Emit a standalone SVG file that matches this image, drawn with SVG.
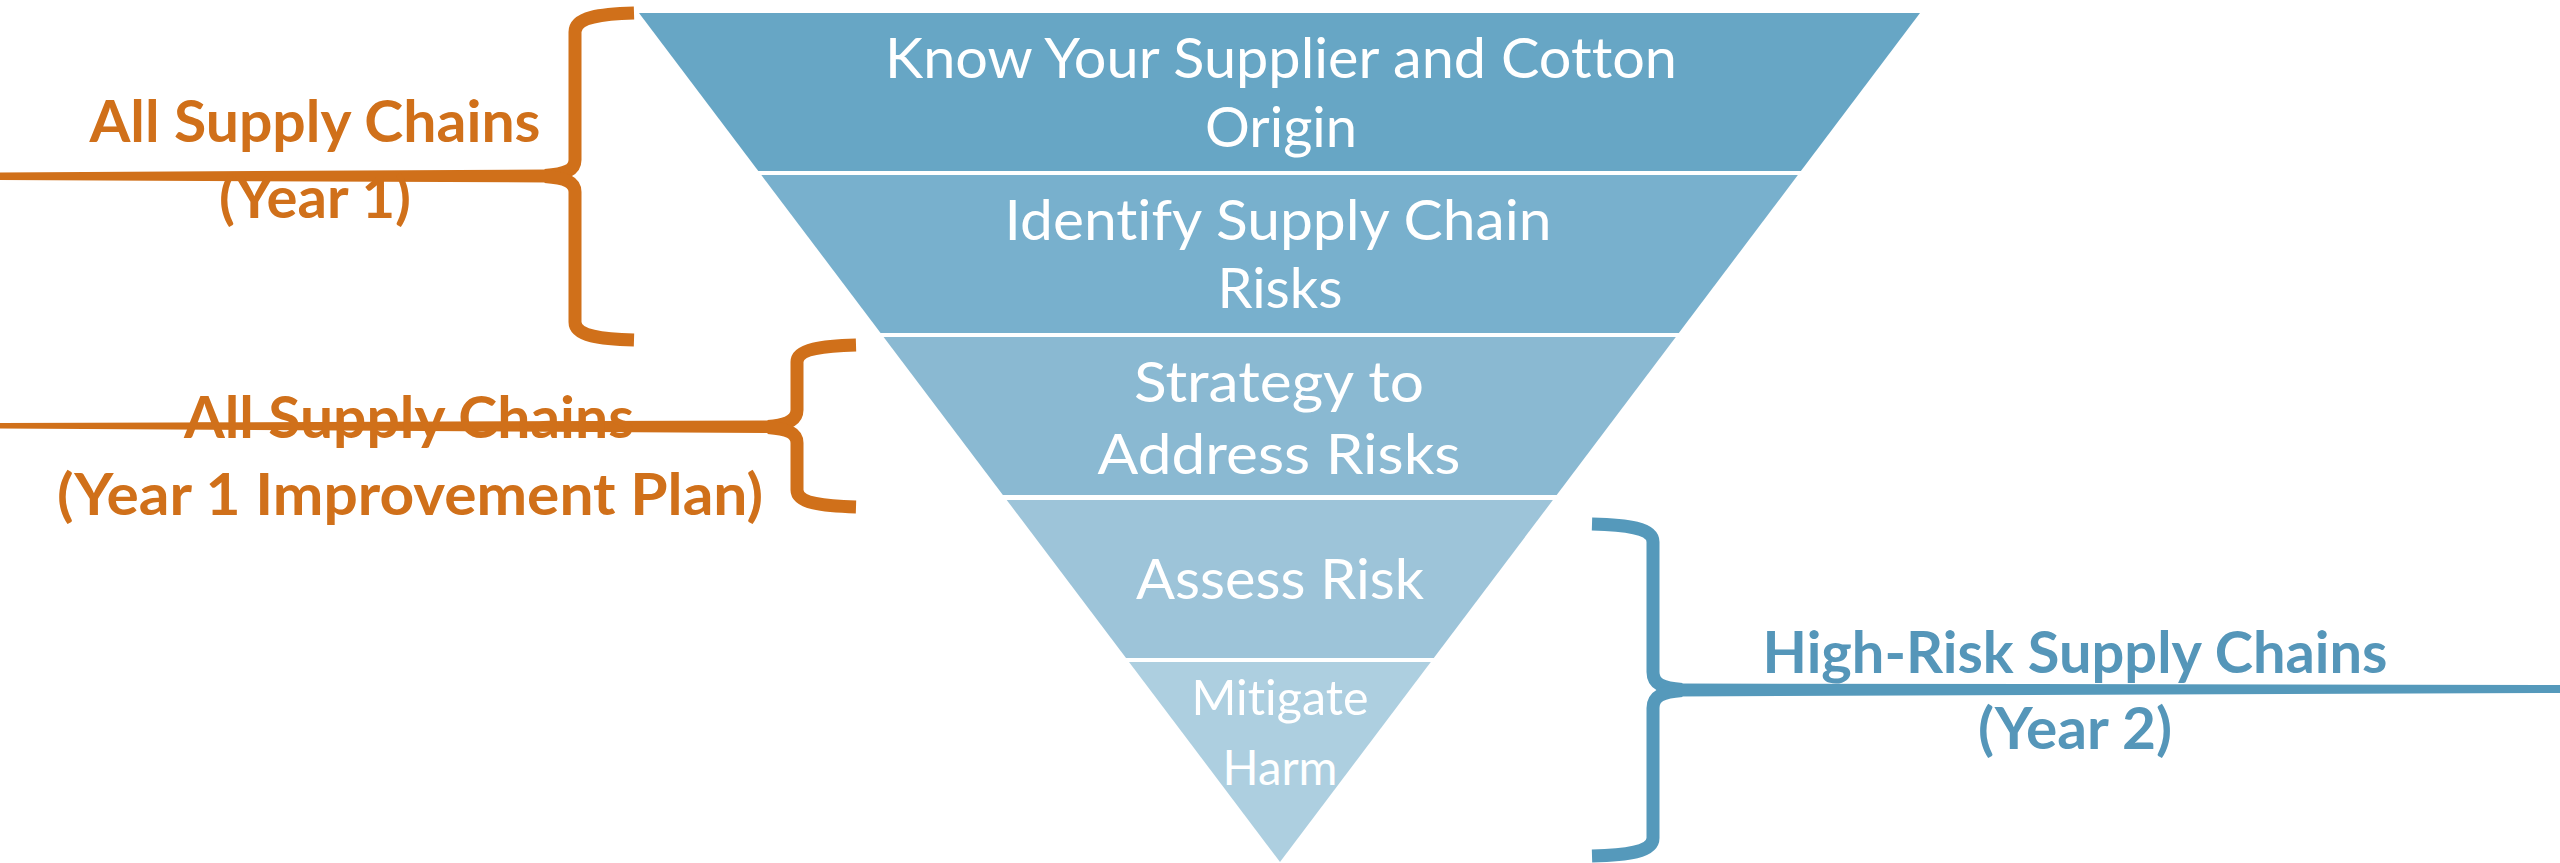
<svg xmlns="http://www.w3.org/2000/svg" width="2560" height="863" viewBox="0 0 2560 863">
<style>
text{font-variant-ligatures:none;font-feature-settings:"liga" 0,"dlig" 0}
.band text{fill:#ffffff;font-family:Lato,"Open Sans","Liberation Sans",sans-serif;font-size:57px;text-anchor:middle}
.lbl{font-family:Lato,"Open Sans","Liberation Sans",sans-serif;font-weight:bold;font-size:58px;text-anchor:middle}
.or{fill:#D0701A}
.bl{fill:#5596B9}
.brO{fill:none;stroke:#D0701A;stroke-width:13;stroke-linecap:butt;stroke-linejoin:round}
.brB{fill:none;stroke:#5599BB;stroke-width:13;stroke-linecap:butt;stroke-linejoin:round}
</style>
<rect width="2560" height="863" fill="#ffffff"/>
<g id="band1" class="band">
<polygon points="639,13 1920,13 1800.9,171 758.3,171" fill="#67A6C5"/>
<text x="1281" y="78" textLength="792" lengthAdjust="spacingAndGlyphs">Know Your Supplier and Cotton</text>
<text x="1281" y="147" textLength="152" lengthAdjust="spacingAndGlyphs">Origin</text>
</g>
<g id="band2" class="band">
<polygon points="761.3,175 1797.9,175 1678.8,333 880.6,333" fill="#78B0CD"/>
<text x="1278" y="240" textLength="547" lengthAdjust="spacingAndGlyphs">Identify Supply Chain</text>
<text x="1280" y="308" textLength="125" lengthAdjust="spacingAndGlyphs">Risks</text>
</g>
<g id="band3" class="band">
<polygon points="883.6,337 1675.8,337 1556.7,495 1002.9,495" fill="#8AB9D2"/>
<text x="1279" y="402" textLength="290" lengthAdjust="spacingAndGlyphs">Strategy to</text>
<text x="1279" y="474" textLength="363" lengthAdjust="spacingAndGlyphs">Address Risks</text>
</g>
<g id="band4" class="band">
<polygon points="1006.7,500 1552.9,500 1433.8,658 1126,658" fill="#9DC4D9"/>
<text x="1280" y="599" textLength="288" lengthAdjust="spacingAndGlyphs">Assess Risk</text>
</g>
<g id="band5" class="band">
<polygon points="1129,662 1430.8,662 1280,862" fill="#ADCFE0"/>
<text x="1280" y="715" style="font-size:48px" textLength="177" lengthAdjust="spacingAndGlyphs">Mitigate</text>
<text x="1280" y="785" style="font-size:48px" textLength="115" lengthAdjust="spacingAndGlyphs">Harm</text>
</g>
<g id="connectors">
<g id="brace1">
<path class="brO" d="M634,13 C600,14 575,17 575,32 L575,160 C575,170 566,174 545,175.5"/>
<path class="brO" d="M545,176.5 C566,178 575,182 575,192 L575,322 C575,336 600,339 634,340"/>
<polygon class="or" points="0,172.5 548,169.5 548,182.5 0,180"/>
</g>
<g id="brace2">
<path class="brO" d="M856,345 C822,346 797,349 797,362 L797,410 C797,420 788,425 768,426.5"/>
<path class="brO" d="M768,427.5 C788,429 797,433 797,443 L797,490 C797,503 822,506 856,507"/>
<polygon class="or" points="0,423 772,420.5 772,433 0,428.5"/>
</g>
<g id="brace3">
<path class="brB" d="M1592,524 C1628,525 1653,528 1653,542 L1653,672 C1653,684 1662,688 1682,689.5"/>
<path class="brB" d="M1682,690.5 C1662,692 1653,696 1653,708 L1653,838 C1653,852 1628,855 1592,856"/>
<polygon points="1676,683.5 2560,685 2560,693 1676,696.5" fill="#5599BB"/>
</g>
</g>
<g id="label-year1">
<text class="lbl or" x="315" y="142" textLength="451" lengthAdjust="spacingAndGlyphs">All Supply Chains</text>
<text class="lbl or" x="315" y="218" textLength="192" lengthAdjust="spacingAndGlyphs">(Year 1)</text>
</g>
<g id="label-improvement">
<text class="lbl or" x="409" y="438" textLength="450" lengthAdjust="spacingAndGlyphs">All Supply Chains</text>
<text class="lbl or" x="410" y="515" textLength="706" lengthAdjust="spacingAndGlyphs">(Year 1 Improvement Plan)</text>
</g>
<g id="label-year2">
<text class="lbl bl" x="2075" y="673" textLength="625" lengthAdjust="spacingAndGlyphs">High-Risk Supply Chains</text>
<text class="lbl bl" x="2075" y="749" textLength="194" lengthAdjust="spacingAndGlyphs">(Year 2)</text>
</g>
</svg>
